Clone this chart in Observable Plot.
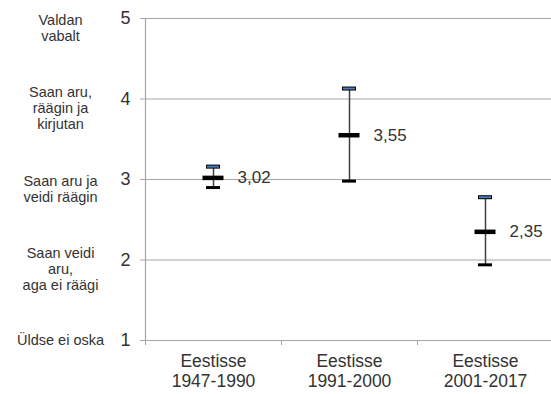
<!DOCTYPE html>
<html>
<head>
<meta charset="utf-8">
<script src="https://cdn.jsdelivr.net/npm/d3@7"></script>
<script src="https://cdn.jsdelivr.net/npm/@observablehq/plot@0.6"></script>
<style>
  html, body { margin: 0; padding: 0; background: #fff; }
  #chart svg { display: block; }
</style>
</head>
<body>
<div id="chart"></div>
<script>
const categories = ["Eestisse\n1947-1990", "Eestisse\n1991-2000", "Eestisse\n2001-2017"];
const means = [3.02, 3.55, 2.35];
const highs = [3.16, 4.13, 2.78];
const lows = [2.90, 2.98, 1.94];
const levels = [1, 2, 3, 4, 5];
const levelLabels = ["Üldse ei oska", "Saan veidi\naru,\naga ei räägi", "Saan aru ja\nveidi räägin", "Saan aru,\nräägin ja\nkirjutan", "Valdan\nvabalt"];

const data = categories.map((c, i) => ({cat: c, mean: means[i], high: highs[i], low: lows[i]}));
const lv = levels.map((v, i) => ({v, label: levelLabels[i]}));
const fmt = v => v.toFixed(2).replace(".", ",");
const font = "'Liberation Sans', Arial, sans-serif";
const grid = "#a6a6a6";
const W = 551, ML = 145;
const band = 136;

const chart = Plot.plot({
  width: W,
  height: 394,
  marginLeft: ML,
  marginRight: 0,
  marginTop: 18,
  marginBottom: 54,
  style: {fontFamily: font, background: "#fff"},
  x: {domain: categories, range: [ML, ML + 3 * band], padding: 0, label: null},
  y: {domain: [1, 5], label: null},
  marks: [
    Plot.ruleY([2, 3, 4, 5], {stroke: grid, strokeWidth: 1}),
    Plot.ruleY([1], {stroke: grid, strokeWidth: 1.2}),
    Plot.frame({anchor: "left", stroke: grid, strokeWidth: 1.2}),
    Plot.ruleX(categories, {x: d => d, y1: 1, y2: 1, insetBottom: -5, dx: -band / 2, stroke: grid}),
    Plot.axisY({ticks: levels, tickSize: 5, tickPadding: 10, fontSize: 18, stroke: grid, color: "#333", tickFormat: d => String(d)}),
    Plot.axisX({tickSize: 0, tickPadding: 13, fontSize: 17.5, color: "#333", lineHeight: 1.12}),
    Plot.text(lv.filter(d => d.v > 1), {y: "v", text: "label", frameAnchor: "left", dx: -85, dy: 9, textAnchor: "middle", fontSize: 14.5, lineHeight: 1.1, fill: "#333"}),
    Plot.text(lv.filter(d => d.v === 1), {y: "v", text: "label", frameAnchor: "left", dx: -85, dy: 0, textAnchor: "middle", fontSize: 14.5, fill: "#333"}),
    Plot.ruleX(data, {x: "cat", y1: "low", y2: "high", stroke: "#404040", strokeWidth: 1.5}),
    Plot.tickY(data, {x: "cat", y: "low", stroke: "#000", strokeWidth: 3, insetLeft: 61, insetRight: 61}),
    Plot.tickY(data, {x: "cat", y: "high", stroke: "#000", strokeWidth: 4, insetLeft: 61, insetRight: 61}),
    Plot.tickY(data, {x: "cat", y: "high", stroke: "#4a7ebb", strokeWidth: 2, insetLeft: 62, insetRight: 62}),
    Plot.tickY(data, {x: "cat", y: "mean", stroke: "#000", strokeWidth: 4.5, insetLeft: 57.5, insetRight: 57.5}),
    Plot.text(data, {x: "cat", y: "mean", text: d => fmt(d.mean), dx: 24, textAnchor: "start", fontSize: 17, fill: "#333"})
  ]
});
document.getElementById("chart").appendChild(chart);
</script>
</body>
</html>
